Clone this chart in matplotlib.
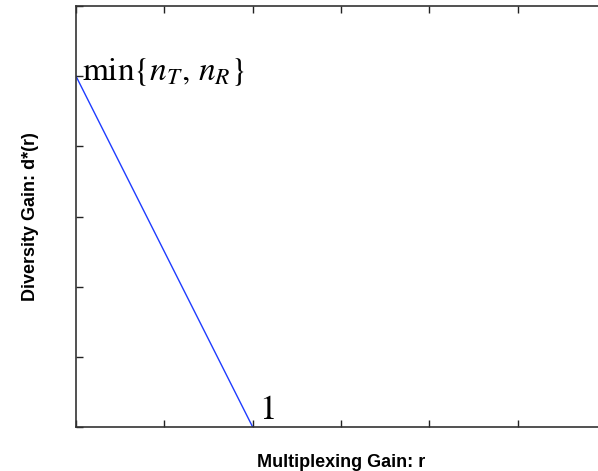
import matplotlib
matplotlib.use("Agg")
import matplotlib.pyplot as plt

plt.rcParams['mathtext.fontset'] = 'stix'

# tradeoff curve: diversity gain vs multiplexing gain
r = [0.0, 1.0]
d = [2.5, 0.0]
x_ticks = [0, 0.5, 1, 1.5, 2, 2.5, 3]
y_ticks = [0, 0.5, 1, 1.5, 2, 2.5, 3]

fig = plt.figure(figsize=(5.98, 4.71), dpi=100)
ax = fig.add_axes([76/598, 44/471, 530/598, 421/471])

ax.plot(r, d, color='#1f3cff', lw=1.0)
ax.set_xlim(0, 3)
ax.set_ylim(0, 3)
ax.set_xticks(x_ticks)
ax.set_yticks(y_ticks)
ax.set_xticklabels([])
ax.set_yticklabels([])
ax.tick_params(direction='in', length=5, width=1, top=True, right=True, color='#222222')
for s in ax.spines.values():
    s.set_color('#333333')
    s.set_linewidth(1.2)

ax.text(0.035, d[0] - 0.03, r'$\mathrm{min}\{n_T,\,n_R\}$', fontsize=24, va='baseline', ha='left')
ax.text(r[1] + 0.035, 0.06, r'$1$', fontsize=25, va='baseline', ha='left')

ax.set_xlabel('Multiplexing Gain: r', family='Liberation Sans', fontweight='bold', fontsize=13)
ax.set_ylabel('Diversity Gain: d*(r)', family='Liberation Sans', fontweight='bold', fontsize=13)
ax.xaxis.set_label_coords(0.5, -(454 - 427) / 421)
ax.yaxis.set_label_coords(-(76 - 39) / 530, 0.5)

fig.savefig('out.png', dpi=100)
